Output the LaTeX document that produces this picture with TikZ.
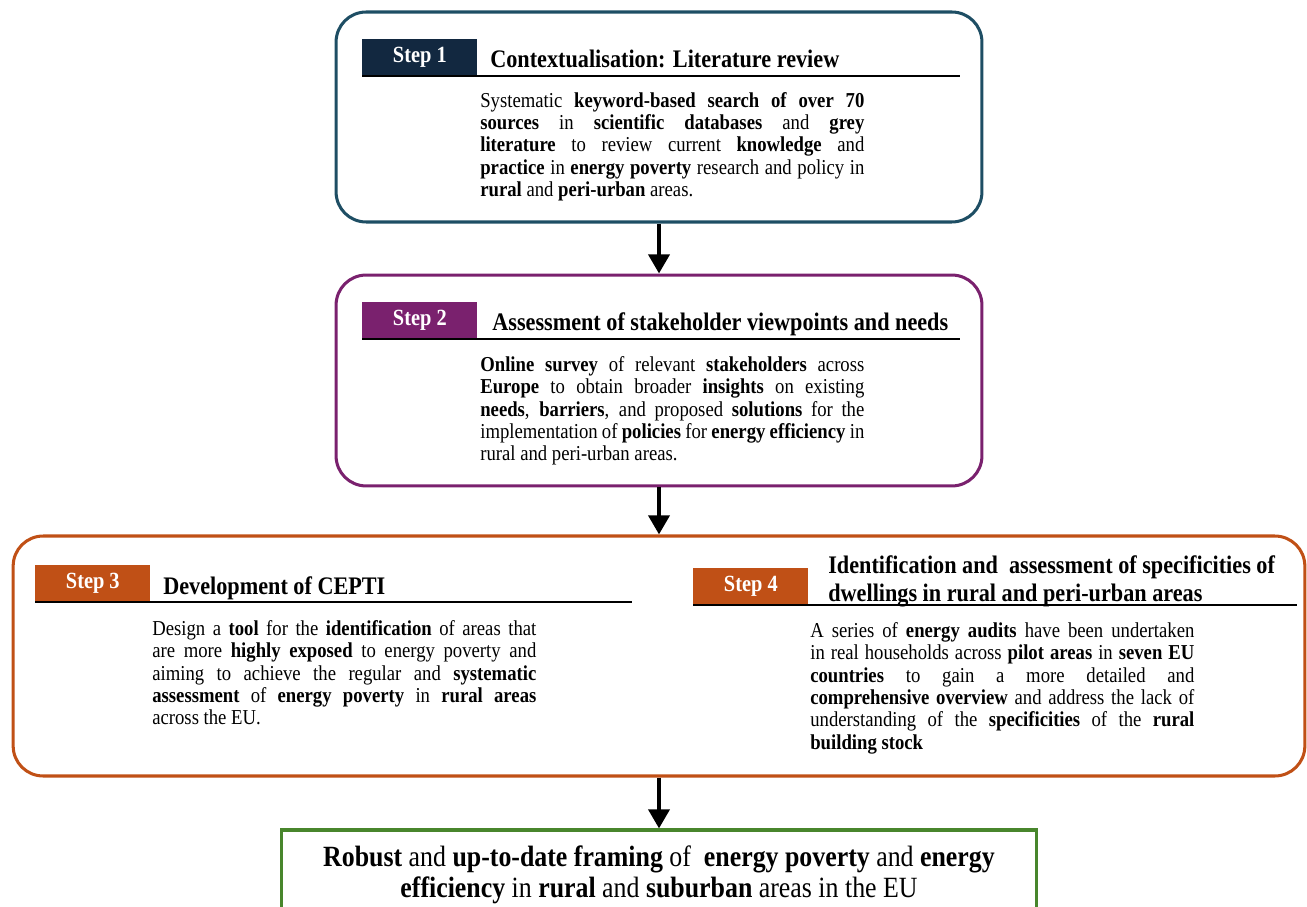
\documentclass[tikz,border=0pt]{standalone}
\usepackage{fontspec}
\setmainfont{Liberation Serif}[FakeStretch=0.88]
\usepackage{tikz}
\usetikzlibrary{arrows.meta}
\definecolor{frameteal}{RGB}{30,78,100}
\definecolor{tagnavy}{RGB}{18,40,64}
\definecolor{stepplum}{RGB}{122,33,110}
\definecolor{steprust}{RGB}{192,80,22}
\definecolor{resgreen}{RGB}{72,134,44}
\hyphenpenalty=10000
\tikzset{
  stepframe/.style={draw=#1, line width=1.9pt, rounded corners=0.66cm, inner sep=0pt},
  steptag/.style={fill=#1, text=white, font=\fontsize{14.5}{16}\selectfont\bfseries,
    minimum width=2.53cm, minimum height=0.81cm, inner sep=0pt, anchor=south west},
  steptitle/.style={font=\fontsize{15.8}{17.5}\selectfont\bfseries, anchor=base west,
    inner sep=0pt, align=left},
  stepbody/.style={font=\fontsize{13.3}{14}\selectfont, text width=8.45cm, align=justify,
    anchor=north west, inner sep=0pt},
  steprule/.style={line width=1.3pt},
  flowarrow/.style={-{Triangle[length=12pt,width=13pt]}, line width=2.8pt}
}

\begin{document}
\begin{tikzpicture}[x=0.022cm, y=-0.022cm]
\useasboundingbox (0,0) rectangle (1307,907);
\clip (0,0) rectangle (1307,907);

% step 1
\node[stepframe=frameteal, minimum width=14.21cm, minimum height=4.62cm] (box1) at (659,117) {};
\node[steptag=tagnavy] (tag1) at (362,76) {Step 1};
\draw[steprule] (tag1.south west) -- ++(598,0);
\node[steptitle] (title1) at (490,68) {Contextualisation: Literature review};
\node[stepbody] (body1) at (480,92) {Systematic \textbf{keyword-based search of over 70}\linebreak
\textbf{sources} in \textbf{scientific databases} and \textbf{grey}\linebreak
\textbf{literature} to review current \textbf{knowledge} and\linebreak
\textbf{practice} in \textbf{energy poverty} research and policy in\linebreak
\textbf{rural} and \textbf{peri-urban} areas.};

% step 2
\node[stepframe=stepplum, minimum width=14.21cm, minimum height=4.64cm] (box2) at (659,380.5) {};
\node[steptag=stepplum] (tag2) at (362,339) {Step 2};
\draw[steprule] (tag2.south west) -- ++(598,0);
\node[steptitle] (title2) at (492,331) {Assessment of stakeholder viewpoints and needs};
\node[stepbody] (body2) at (480,356) {\textbf{Online survey} of relevant \textbf{stakeholders} across\linebreak
\textbf{Europe} to obtain broader \textbf{insights} on existing\linebreak
\textbf{needs}, \textbf{barriers}, and proposed \textbf{solutions} for the\linebreak
implementation of \textbf{policies} for \textbf{energy efficiency} in\linebreak
rural and peri-urban areas.};

% steps 3 and 4 share one frame
\node[stepframe=steprust, minimum width=28.42cm, minimum height=5.28cm] (box3) at (659,656) {};
\node[steptag=steprust] (tag3) at (35,602) {Step 3};
\draw[steprule] (tag3.south west) -- ++(597,0);
\node[steptitle] (title3) at (163,594) {Development of CEPTI};
\node[stepbody] (body3) at (152,620) {Design a \textbf{tool} for the \textbf{identification} of areas that\linebreak
are more \textbf{highly exposed} to energy poverty and\linebreak
aiming to achieve the regular and \textbf{systematic}\linebreak
\textbf{assessment} of \textbf{energy poverty} in \textbf{rural areas}\linebreak
across the EU.};

\node[steptag=steprust] (tag4) at (693,605) {Step 4};
\draw[steprule] (tag4.south west) -- ++(604,0);
\node[steptitle] (title4) at (828,601) {Identification and \ assessment of specificities of\\
dwellings in rural and peri-urban areas};
\node[stepbody] (body4) at (810,622) {A series of \textbf{energy audits} have been undertaken\linebreak
in real households across \textbf{pilot areas} in \textbf{seven EU}\linebreak
\textbf{countries} to gain a more detailed and\linebreak
\textbf{comprehensive overview} and address the lack of\linebreak
understanding of the \textbf{specificities} of the \textbf{rural}\linebreak
\textbf{building stock}};

% outcome, runs off the bottom edge
\node[draw=resgreen, line width=1.9pt, minimum width=16.63cm, minimum height=1.98cm,
  font=\fontsize{18.4}{19.3}\selectfont, align=center] (result) at (659,875)
  {\textbf{Robust} and \textbf{up-to-date framing} of \ \textbf{energy poverty} and \textbf{energy}\\
  \textbf{efficiency} in \textbf{rural} and \textbf{suburban} areas in the EU};

\draw[flowarrow] (box1.south) -- (box2.north);
\draw[flowarrow] (box2.south) -- (box3.north);
\draw[flowarrow] (box3.south) -- (result.north);
\end{tikzpicture}
\end{document}
